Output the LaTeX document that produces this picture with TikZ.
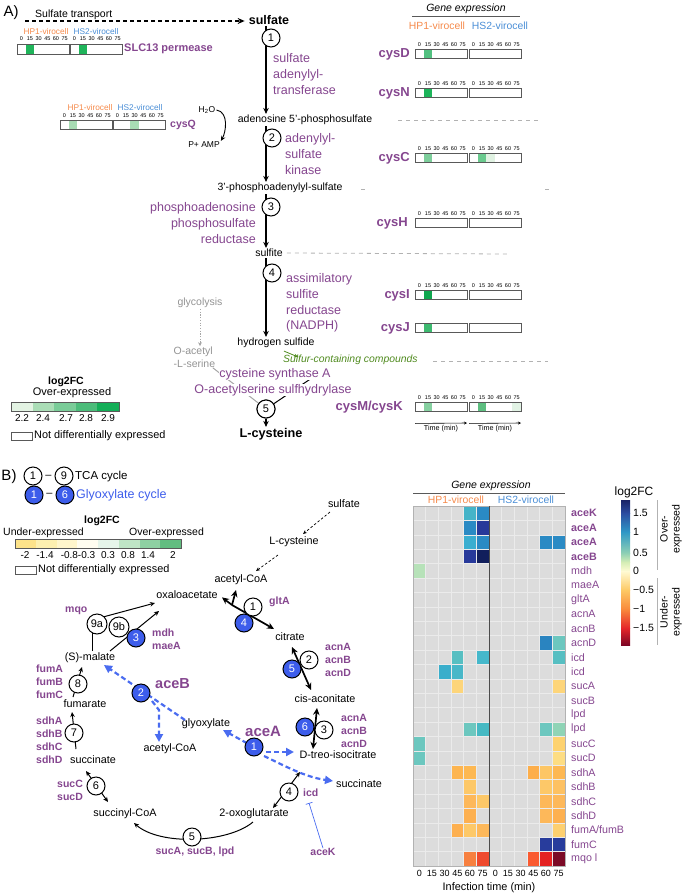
\documentclass[tikz,border=0pt]{standalone}
\usepackage{fontspec}
\setmainfont{Liberation Sans}
\usetikzlibrary{arrows.meta,calc}
\definecolor{purp}{HTML}{85468F}
\definecolor{orng}{HTML}{F58A4B}
\definecolor{blu}{HTML}{4A8ED6}
\definecolor{gblue}{HTML}{3D5DEB}
\definecolor{dblue}{HTML}{4A6CF0}
\definecolor{sccgreen}{HTML}{4F8A1E}
\definecolor{hgray}{HTML}{DCDCDC}
\newcommand{\myfs}[2]{\fontsize{#1}{#2}\selectfont}
\newcommand{\gcellA}[4]{\definecolor{gctmp}{HTML}{#4}\fill[gctmp] ({#1+#3*8.667},#2) rectangle ++(8.667,9.5);}
\newcommand{\gboxA}[2]{\draw[boxc] (#1,#2) rectangle ++(52,9.5);}
\newcommand{\gtickA}[2]{\foreach \t [count=\i from 0] in {0,15,30,45,60,75}{\node[tk] (tk-#1-#2-\i) at ({#1+4.33+\i*8.667},#2) {\t};}}
\newcommand{\hcell}[3]{\definecolor{hctmp}{HTML}{#3}\fill[hctmp] ({413+#2*12.667},{506+#1*14.4}) rectangle ++(12.667,14.4);}
\begin{document}
\begin{tikzpicture}[x=1pt,y=-1pt,
 met/.style={inner sep=1pt, font=\myfs{10.5}{12}},
 metB/.style={inner sep=1pt, font=\myfs{10.8}{12}},
 enz/.style={inner sep=0pt, text=purp, font=\myfs{12.5}{15.7}},
 gene/.style={inner sep=0pt, text=purp, font=\bfseries\myfs{10.5}{13}},
 geneA/.style={inner sep=0pt, text=purp, font=\bfseries\myfs{13}{14}},
 circ/.style={circle, draw, line width=1pt, fill=white, minimum size=18pt, inner sep=0pt, font=\myfs{11}{11}},
 bcirc/.style={circ, fill=gblue, text=white},
 tk/.style={inner sep=0pt, font=\myfs{5.5}{6}},
 boxc/.style={draw=gray!70!black, line width=0.7pt},
 mainarr/.style={line width=1.3pt, -{Stealth[length=6pt,width=5.5pt]}},
 tarr/.style={line width=1.7pt, -{Stealth[length=7pt,width=6.5pt]}},
 tarrB/.style={line width=1.7pt, {Stealth[length=7pt,width=6.5pt]}-{Stealth[length=7pt,width=6.5pt]}},
 narr/.style={line width=1pt, -{Stealth[length=5pt,width=4.5pt]}},
 narrB/.style={line width=1pt, {Stealth[length=5pt,width=4.5pt]}-{Stealth[length=5pt,width=4.5pt]}},
 gdash/.style={draw=gray!60, line width=0.8pt, dash pattern=on 4pt off 4pt},
 bd/.style={draw=dblue, line width=2.2pt, dash pattern=on 5pt off 3pt},
 btip/.style={-{Triangle[length=8pt,width=8pt]}},
 hp/.style={text=orng, inner sep=0pt},
 hs/.style={text=blu, inner sep=0pt},
 hgrid/.style={draw=white!92!black, line width=0.5pt}
]
\useasboundingbox (0,0) rectangle (685,894);

% ================= Panel A =================
\node[font=\myfs{15}{15}, inner sep=0] (lblA) at (11,13) {A)};
\node[inner sep=0, font=\myfs{10.5}{12}, anchor=west] (sttxt) at (35,15) {Sulfate transport};
\node[inner sep=1pt, font=\bfseries\myfs{12.5}{14}] (sulfate) at (269,20) {sulfate};
\coordinate (stStart) at (25,21);
\draw[line width=1.4pt, dash pattern=on 4pt off 3pt, -{Stealth[length=7pt,width=6pt]}, shorten >=3pt] (stStart) -- (stStart -| sulfate.west);

% SLC13
\node[hp, font=\myfs{8.3}{9}] (slcH) at (46,32) {HP1-virocell};
\node[hs, font=\myfs{8.3}{9}] (slcS) at (96,32) {HS2-virocell};
\gtickA{17}{39}\gtickA{70}{39}
\gcellA{17}{44.5}{1}{1FB45A}
\gcellA{70}{44.5}{1}{1FB45A}
\gboxA{17}{44.5}\gboxA{70}{44.5}
\node[inner sep=0, text=purp, font=\bfseries\myfs{11}{12}, anchor=west] (slc) at (124,49) {SLC13 permease};

% metabolites
\node[met] (aps) at (305,120) {adenosine 5’-phosphosulfate};
\node[met] (paps) at (280,188) {3’-phosphoadenylyl-sulfate};
\node[met] (sulfite) at (269,253) {sulfite};
\node[met] (h2s) at (276,343) {hydrogen sulfide};
\node[inner sep=1pt, font=\bfseries\myfs{12.7}{14}] (lcys) at (271,434) {L-cysteine};

\draw[mainarr] (sulfate.south -| 266,0) -- (aps.north -| 266,0);
\draw[mainarr] (aps.south -| 266,0) -- (paps.north -| 266,0);
\draw[mainarr] (paps.south -| 266,0) -- (sulfite.north -| 266,0);
\draw[mainarr] (sulfite.south -| 266,0) -- (h2s.north -| 266,0);
\node[circ] (cA1) at (271,38) {1};
\node[circ] (cA2) at (272,138) {2};
\node[circ] (cA3) at (271,207) {3};
\node[circ] (cA4) at (272,273) {4};

\node[enz, anchor=west, align=left] (e1) at (273,74) {sulfate\\adenylyl-\\transferase};
\node[enz, anchor=west, align=left] (e2) at (285,154) {adenylyl-\\sulfate\\kinase};
\node[enz, anchor=east, align=right] (e3) at (256,223) {phosphoadenosine\\phosphosulfate\\reductase};
\node[enz, anchor=west, align=left] (e4) at (286,303) {assimilatory\\sulfite\\reductase\\(NADPH)};

% cysQ
\node[hp, font=\myfs{8.3}{9}] (cqH) at (90,108) {HP1-virocell};
\node[hs, font=\myfs{8.3}{9}] (cqS) at (140,108) {HS2-virocell};
\gtickA{60}{116}\gtickA{113}{116}
\gcellA{60}{120}{1}{A8DCB4}
\gcellA{113}{120}{2}{A8DCB4}
\gboxA{60}{120}\gboxA{113}{120}
\node[inner sep=0, text=purp, font=\bfseries\myfs{10.5}{12}, anchor=west] (cysQ) at (170,125) {cysQ};
\node[inner sep=1pt, font=\myfs{8.5}{10}] (h2o) at (207,110) {H\textsubscript{2}O};
\node[inner sep=1pt, font=\myfs{8.5}{10}] (pamp) at (204,145) {P+ AMP};
\draw[line width=0.9pt, -{Stealth[length=5pt,width=4.5pt]}] (h2o.east) .. controls (229,112) and (226,132) .. (pamp.north east);

% dashed separators
\draw[gdash] (398,120) -- (540,120);
\draw[gdash] (361,189) -- (365,189);
\draw[gdash] (545,189) -- (549,189);
\draw[gdash] (sulfite.east) ++(3,0) -- (510,254);
\draw[gdash] (433,361) -- (548,361);

% glycolysis / O-acetyl-L-serine
\node[met, text=gray!85] (glyc) at (200,303) {glycolysis};
\node[inner sep=0.5pt, font=\myfs{10.5}{12.5}, text=gray!85, anchor=west, align=left] (oas) at (173,357) {O-acetyl\\-L-serine};
\draw[gray!70, line width=1pt, dash pattern=on 1.2pt off 1.5pt, -{Stealth[length=4pt,width=4pt]}] (glyc.south) -- (glyc.south |- oas.north);

% sulfur containing compounds
\node[inner sep=0, font=\itshape\myfs{10.4}{12}, text=sccgreen, anchor=west] (scc) at (283,360) {Sulfur-containing compounds};
\draw[sccgreen, line width=0.8pt, -{Stealth[length=4pt,width=3.5pt]}] ($(h2s.south)+(8,2)$) -- ($(scc.north west)+(15,2)$);

% step 5
\node[circ] (cA5) at (266,409) {5};
\draw[gray!70, line width=1pt] ($(oas.south east)+(-3,0)$) -- (cA5);
\draw[line width=1pt] ($(h2s.south)+(49,20)$) -- (cA5);
\node[circ] (cA5b) at (266,409) {5};
\node[enz, fill=white, inner sep=0.5pt] (syn1) at (275,374) {cysteine synthase A};
\node[enz, fill=white, inner sep=0.5pt] (syn2) at (273,390) {O-acetylserine sulfhydrylase};
\draw[mainarr] (cA5b.south) -- (cA5b.south |- lcys.north);

% legend A
\node[inner sep=0, font=\bfseries\myfs{10.5}{12}] (lgA) at (66,382) {log2FC};
\node[inner sep=0, font=\myfs{11}{12}] (lgAo) at (72,393) {Over-expressed};
\fill[fill={rgb,255:red,227;green,243;blue,227}] (11,402) rectangle ++(21.6,9);
\fill[fill={rgb,255:red,170;green,221;blue,182}] (32.6,402) rectangle ++(21.6,9);
\fill[fill={rgb,255:red,122;green,204;blue,152}] (54.2,402) rectangle ++(21.6,9);
\fill[fill={rgb,255:red,76;green,188;blue,122}] (75.8,402) rectangle ++(21.6,9);
\fill[fill={rgb,255:red,20;green,174;blue,88}] (97.4,402) rectangle ++(21.6,9);
\draw[boxc] (11,402) rectangle (119,411);
\foreach \v/\x [count=\i] in {2.2/22,2.4/43,2.7/66,2.8/86,2.9/108}{\node[inner sep=0, font=\myfs{10}{11}] (lgAt\i) at (\x,418) {\v};}
\draw[boxc] (11,432) rectangle (32,440);
\node[inner sep=0, font=\myfs{10.9}{12}, anchor=west] (lgAn) at (34,436) {Not differentially expressed};

% right column panel A
\node[inner sep=0, font=\itshape\myfs{10.5}{12}] (gexA) at (466,9) {Gene expression};
\draw[gray!70!black, line width=0.8pt] (412,16) -- (520,16);
\node[hp, font=\myfs{10.4}{12}] (gaH) at (437,26) {HP1-virocell};
\node[hs, font=\myfs{10.4}{12}] (gaS) at (500,26) {HS2-virocell};

% cysD
\gtickA{415}{45}\gtickA{469}{45}
\gcellA{415}{49}{1}{52C080}
\gboxA{415}{49}\gboxA{469}{49}
\node[geneA, anchor=east] (cysD) at (410,54) {cysD};
% cysN
\gtickA{415}{84}\gtickA{469}{84}
\gcellA{415}{88}{1}{1DB45A}
\gboxA{415}{88}\gboxA{469}{88}
\node[geneA, anchor=east] (cysN) at (410,93) {cysN};
% cysC
\gtickA{415}{149}\gtickA{469}{149}
\gcellA{415}{153}{1}{7DCE9B}
\gcellA{469}{153}{1}{6ACA8E}
\gcellA{469}{153}{2}{E0F2E2}
\gboxA{415}{153}\gboxA{469}{153}
\node[geneA, anchor=east] (cysC) at (410,158) {cysC};
% cysH
\gtickA{415}{214}\gtickA{469}{214}
\gboxA{415}{218}\gboxA{469}{218}
\node[geneA, anchor=east] (cysH) at (408,223) {cysH};
% cysI
\gtickA{415}{286}\gtickA{469}{286}
\gcellA{415}{290}{1}{0FA64E}
\gboxA{415}{290}\gboxA{469}{290}
\node[geneA, anchor=east] (cysI) at (410,295) {cysI};
% cysJ
\gcellA{415}{323}{1}{3DBA70}
\gboxA{415}{323}\gboxA{469}{323}
\node[geneA, anchor=east] (cysJ) at (410,328) {cysJ};
% cysM/cysK
\gtickA{415}{398}\gtickA{469}{398}
\gcellA{415}{402}{1}{86D0A0}
\gcellA{469}{402}{1}{5DBE80}
\gcellA{469}{402}{5}{E2F3E5}
\gboxA{415}{402}\gboxA{469}{402}
\node[geneA, anchor=east] (cysMK) at (403,407) {cysM/cysK};
% time axes
\node[inner sep=0, font=\myfs{7.2}{8}] (tm1) at (441,429) {Time (min)};
\node[inner sep=0, font=\myfs{7.2}{8}] (tm2) at (495,429) {Time (min)};
\draw[line width=0.6pt, -{Stealth[length=3pt,width=3pt]}] (tm1.north -| 415,0) ++(0,-2) -- (467,423);
\draw[line width=0.6pt, -{Stealth[length=3pt,width=3pt]}] (tm2.north -| 469,0) ++(0,-2) -- (521,423);

% ================= Panel B =================
\node[font=\myfs{15}{15}, inner sep=0] (lblB) at (9,477) {B)};
\node[circ] (l1) at (33,476) {1};
\node[inner sep=0, font=\myfs{11}{11}] (dashT) at (48.5,477) {–};
\node[circ] (l9) at (64,476) {9};
\node[inner sep=0, font=\myfs{11.5}{12}, anchor=west] (tcaT) at (75,477) {TCA cycle};
\node[bcirc] (g1) at (34,495) {1};
\node[inner sep=0, font=\myfs{11}{11}] (dashG) at (49.5,495) {–};
\node[bcirc] (g6) at (65,495) {6};
\node[inner sep=0, font=\myfs{12.5}{13}, text=gblue, anchor=west] (glyT) at (76,495) {Glyoxylate cycle};

% legend B
\node[inner sep=0, font=\bfseries\myfs{10.5}{12}] (lgB) at (102,521) {log2FC};
\node[inner sep=0, font=\myfs{10.5}{12}, anchor=west] (lgBu) at (3,533) {Under-expressed};
\node[inner sep=0, font=\myfs{10.5}{12}, anchor=west] (lgBo) at (129,533) {Over-expressed};
\foreach \c [count=\i from 0] in {FDE38A,FDF0B0,FFF6CC,FFFDF0,E6F5EA,BFE5C6,8ED0A2,62BD80}{
  \definecolor{lgtmp}{HTML}{\c}\fill[lgtmp] ({15+\i*20.75},539) rectangle ++(20.75,9);}
\draw[boxc] (15,539) rectangle (181,548);
\foreach \v/\x [count=\i] in {-2/25,-1.4/45,-0.8-0.3/78,0.3/108,0.8/128,1.4/148,2/173}{\node[inner sep=0, font=\myfs{10}{11}] (lgBt\i) at (\x,555) {\v};}
\draw[boxc] (15,566) rectangle (36,574);
\node[inner sep=0, font=\myfs{10.9}{12}, anchor=west] (lgBn) at (38,570) {Not differentially expressed};

% metabolites B
\node[metB] (sulfB) at (344,504) {sulfate};
\node[metB] (lcysB) at (294,542) {L-cysteine};
\node[metB] (acoaB) at (241,580) {acetyl-CoA};
\node[metB] (oaa) at (187,595) {oxaloacetate};
\node[metB] (cit) at (290,637) {citrate};
\node[metB] (cis) at (325,699) {cis-aconitate};
\node[metB] (iso) at (338,755) {D-treo-isocitrate};
\node[metB] (succR) at (359,784) {succinate};
\node[metB] (oxo) at (254,814) {2-oxoglutarate};
\node[metB] (sucoa) at (125,814) {succinyl-CoA};
\node[metB] (succL) at (93,760) {succinate};
\node[metB] (fum) at (85,704) {fumarate};
\node[metB] (mal) at (90,658) {(S)-malate};
\node[metB] (glx) at (206,724) {glyoxylate};
\node[metB] (acoa2) at (170,749) {acetyl-CoA};

% sulfate -> cysteine -> acetyl-CoA
\coordinate (sd1) at (330,512);
\coordinate (sd2) at (303,534);
\coordinate (sd3) at (278,555);
\coordinate (sd4) at (256,571);
\draw[line width=0.7pt, dash pattern=on 2.5pt off 2pt, -{Stealth[length=4pt,width=3.5pt]}] (sd1) -- (sd2);
\draw[line width=0.7pt, dash pattern=on 2.5pt off 2pt, -{Stealth[length=4pt,width=3.5pt]}] (sd3) -- (sd4);

% TCA arrows
\coordinate (brA) at (232,605);
\draw[tarr, shorten >=4pt] (brA) -- (oaa.east);
\draw[tarr] (brA) -- (236,590);
\draw[tarr] (brA) -- (274,629);
\node[circ] (b1o) at (253,607) {1};
\node[bcirc] (b4) at (244,623) {4};
\node[gene, anchor=west] (gltA) at (269,602) {gltA};

\draw[tarrB] (292,647) -- (311,690);
\node[circ] (b2o) at (309,660) {2};
\node[bcirc] (b5) at (292,669) {5};
\node[gene, anchor=west, align=left] (acn1) at (325,660) {acnA\\acnB\\acnD};

\draw[tarrB] (317,708) -- (313,749);
\node[bcirc] (b6) at (305,727) {6};
\node[circ] (b3o) at (324,730) {3};
\node[gene, anchor=west, align=left] (acn2) at (341,731) {acnA\\acnB\\acnD};

\draw[narrB] (273,808) -- (300,772);
\node[circ] (b4o) at (289,792) {4};
\node[gene, anchor=west] (icd) at (303,793) {icd};
\node[gene] (aceK) at (323,852) {aceK};
\coordinate (icdInh) at (309,803);
\draw[dblue, line width=0.7pt, -{Bar[width=7pt]}] (aceK.north) -- (icdInh);

\draw[narr] (253,822) .. controls (228,843) and (160,846) .. (134,823);
\node[circ] (b5o) at (192,837) {5};
\node[gene] (sucABl) at (195,852) {sucA, sucB, lpd};

\draw[narrB] (86,771) -- (108,802);
\node[circ] (b6o) at (96,786) {6};
\node[gene, anchor=west, align=left] (sucCD) at (57,790) {sucC\\sucD};

\draw[narr] (76,749) -- (72,712);
\node[circ] (b7o) at (74,733) {7};
\node[gene, anchor=west, align=left] (sdh) at (36,740) {sdhA\\sdhB\\sdhC\\sdhD};

\draw[narr] (73,697) -- (82,667);
\node[circ] (b8o) at (78,684) {8};
\node[gene, anchor=west, align=left] (fumABC) at (36,682) {fumA\\fumB\\fumC};

\draw[line width=1pt] (92,651) -- (92,630);
\draw[narr] (103,617) -- (155,603);
\draw[narr] (110,651) -- (159,611);
\node[circ, minimum size=20pt] (b9a) at (97,624) {9a};
\node[circ, minimum size=20pt] (b9b) at (119,627) {9b};
\node[bcirc] (b3b) at (136,638) {3};
\node[gene, anchor=west] (mqo) at (65,611) {mqo};
\node[gene, anchor=west, align=left] (mdh) at (152,639) {mdh\\maeA};

% glyoxylate shunt (blue dashed)
\draw[bd, btip] (185,720) -- (104,665);
\draw[bd, btip] (152,701) -- (159,710) -- (159,742);
\draw[bd, btip] (254,747) -- (223,730);
\draw[bd, btip] (266,752) -- (294,752);
\draw[bd, btip] (264,756) .. controls (285,766) and (305,777) .. (333,781);
\node[bcirc] (ab2) at (141,693) {2};
\node[bcirc] (ab1) at (254,747) {1};
\node[inner sep=0, text=purp, font=\bfseries\myfs{14.5}{15}, anchor=west] (aceB) at (155,684) {aceB};
\node[inner sep=0, text=purp, font=\bfseries\myfs{15}{16}, anchor=west] (aceA) at (245,731) {aceA};

% ================= Heatmap =================
\node[inner sep=0, font=\itshape\myfs{10.5}{12}] (gexB) at (491,486) {Gene expression};
\draw[gray!70!black, line width=0.8pt] (413,493) -- (565,493);
\node[hp, font=\myfs{10.4}{12}] (hbH) at (456,500) {HP1-virocell};
\node[hs, font=\myfs{10.4}{12}] (hbS) at (526,500) {HS2-virocell};

\fill[hgray] (413,506) rectangle (565,866);
% aceK
\hcell{0}{4}{45B4C8}\hcell{0}{5}{2A8AC4}
% aceA
\hcell{1}{4}{2A8AC4}\hcell{1}{5}{27399A}
% aceA
\hcell{2}{4}{3AAED0}\hcell{2}{5}{2A8AC4}\hcell{2}{10}{2A8AC4}\hcell{2}{11}{2A8AC4}
% aceB
\hcell{3}{4}{27399A}\hcell{3}{5}{111E5C}
% mdh
\hcell{4}{0}{B7E2B9}
% acnD
\hcell{9}{10}{2A84C0}\hcell{9}{11}{6CC7BF}
% icd
\hcell{10}{3}{57BFC2}\hcell{10}{5}{45B8CB}\hcell{10}{11}{57BFC2}
\hcell{11}{2}{3AAECB}\hcell{11}{3}{48B7C8}
% sucA
\hcell{12}{3}{FDD57A}\hcell{12}{11}{FDD57A}
% lpd
\hcell{15}{4}{6CC7BF}\hcell{15}{5}{45B9C3}\hcell{15}{10}{6CC7BF}\hcell{15}{11}{8FD4B6}
% sucC sucD
\hcell{16}{0}{6CC7BF}\hcell{16}{11}{FDD26F}
\hcell{17}{0}{6CC7BF}\hcell{17}{11}{FDDD83}
% sdhA
\hcell{18}{3}{FDB550}\hcell{18}{4}{FDB852}\hcell{18}{9}{FDAE4A}\hcell{18}{10}{FDC665}\hcell{18}{11}{FDB853}
% sdhB
\hcell{19}{4}{FDC868}\hcell{19}{10}{FDC868}\hcell{19}{11}{FDC162}
% sdhC
\hcell{20}{4}{FDB85A}\hcell{20}{5}{FDC868}\hcell{20}{10}{FDB85A}\hcell{20}{11}{FDB85A}
% sdhD
\hcell{21}{4}{FDB050}\hcell{21}{10}{FDB85A}\hcell{21}{11}{FDB050}
% fumA/fumB
\hcell{22}{3}{FDB050}\hcell{22}{4}{FDC868}\hcell{22}{5}{FDB85A}\hcell{22}{11}{FDD070}
% fumC
\hcell{23}{10}{283C9C}\hcell{23}{11}{283C9C}
% mqo
\hcell{24}{4}{F78040}\hcell{24}{5}{EF4A2E}\hcell{24}{9}{FA5A30}\hcell{24}{10}{E42222}\hcell{24}{11}{7C0A26}

\foreach \c in {1,...,11} \draw[hgrid] ({413+\c*12.667},506) -- ++(0,360);
\foreach \r in {1,...,24} \draw[hgrid] (413,{506+\r*14.4}) -- ++(152,0);
\draw[gray!60, line width=0.6pt] (413,506) rectangle (565,866);
\draw[black!70, line width=0.9pt] (489,506) -- (489,866);

% row labels
\foreach \g [count=\i from 0] in {aceK,aceA,aceA,aceB}{\node[inner sep=0, anchor=west, text=purp, font=\bfseries\myfs{10.7}{12}] (rlb\i) at (571,{513.2+\i*14.4}) {\g};}
\foreach \g [count=\i from 4] in {mdh,maeA,gltA,acnA,acnB,acnD,icd,icd,sucA,sucB,lpd,lpd,sucC,sucD,sdhA,sdhB,sdhC,sdhD,fumA/fumB,fumC,mqo l}{\node[inner sep=0, anchor=west, text=purp, font=\myfs{10.7}{12}] (rl\i) at (571,{513.2+\i*14.4}) {\g};}

% column labels
\foreach \t [count=\i from 0] in {0,15,30,45,60,75,0,15,30,45,60,75}{\node[inner sep=0, font=\myfs{9}{10}] (cl\i) at ({419.3+\i*12.667},873) {\t};}
\node[inner sep=0, font=\myfs{10.9}{12}] (inft) at (489,888) {Infection time (min)};

% colour bar
\definecolor{cb0}{HTML}{1A2366}
\definecolor{cb1}{HTML}{2C4CA0}
\definecolor{cb2}{HTML}{2E98C6}
\definecolor{cb3}{HTML}{8FD0B4}
\definecolor{cb4}{HTML}{D4EDB5}
\definecolor{cb5}{HTML}{FFFBD4}
\definecolor{cb6}{HTML}{FDC965}
\definecolor{cb7}{HTML}{F98A3C}
\definecolor{cb8}{HTML}{E5262A}
\definecolor{cb9}{HTML}{7E0525}
\shade[top color=cb0, bottom color=cb1] (621,500) rectangle (630,513.2);
\shade[top color=cb1, bottom color=cb2] (621,513) rectangle (630,532.2);
\shade[top color=cb2, bottom color=cb3] (621,532) rectangle (630,553.2);
\shade[top color=cb3, bottom color=cb4] (621,553) rectangle (630,562.2);
\shade[top color=cb4, bottom color=cb5] (621,562) rectangle (630,571.2);
\shade[top color=cb5, bottom color=cb6] (621,571) rectangle (630,590.2);
\shade[top color=cb6, bottom color=cb7] (621,590) rectangle (630,609.2);
\shade[top color=cb7, bottom color=cb8] (621,609) rectangle (630,628.2);
\shade[top color=cb8, bottom color=cb9] (621,628) rectangle (630,645);
\node[inner sep=0, font=\myfs{12}{13}] (cbT) at (634,492) {log2FC};
\foreach \v/\y [count=\i] in {1.5/513,1/532,0.5/553,0/571,−0.5/590,−1/609,−1.5/628}{\node[inner sep=0, anchor=west, font=\myfs{10.5}{12}] (cbl\i) at (633,\y) {\v};}
\draw[gray!60, line width=0.8pt] (657,500) -- (657,570);
\draw[gray!60, line width=0.8pt] (657,578) -- (657,645);
\node[inner sep=0, rotate=90, align=center, font=\myfs{10.5}{12}] (overT) at (671,529) {Over-\\expressed};
\node[inner sep=0, rotate=90, align=center, font=\myfs{10.5}{12}] (underT) at (671,612) {Under-\\expressed};
\end{tikzpicture}
\end{document}
